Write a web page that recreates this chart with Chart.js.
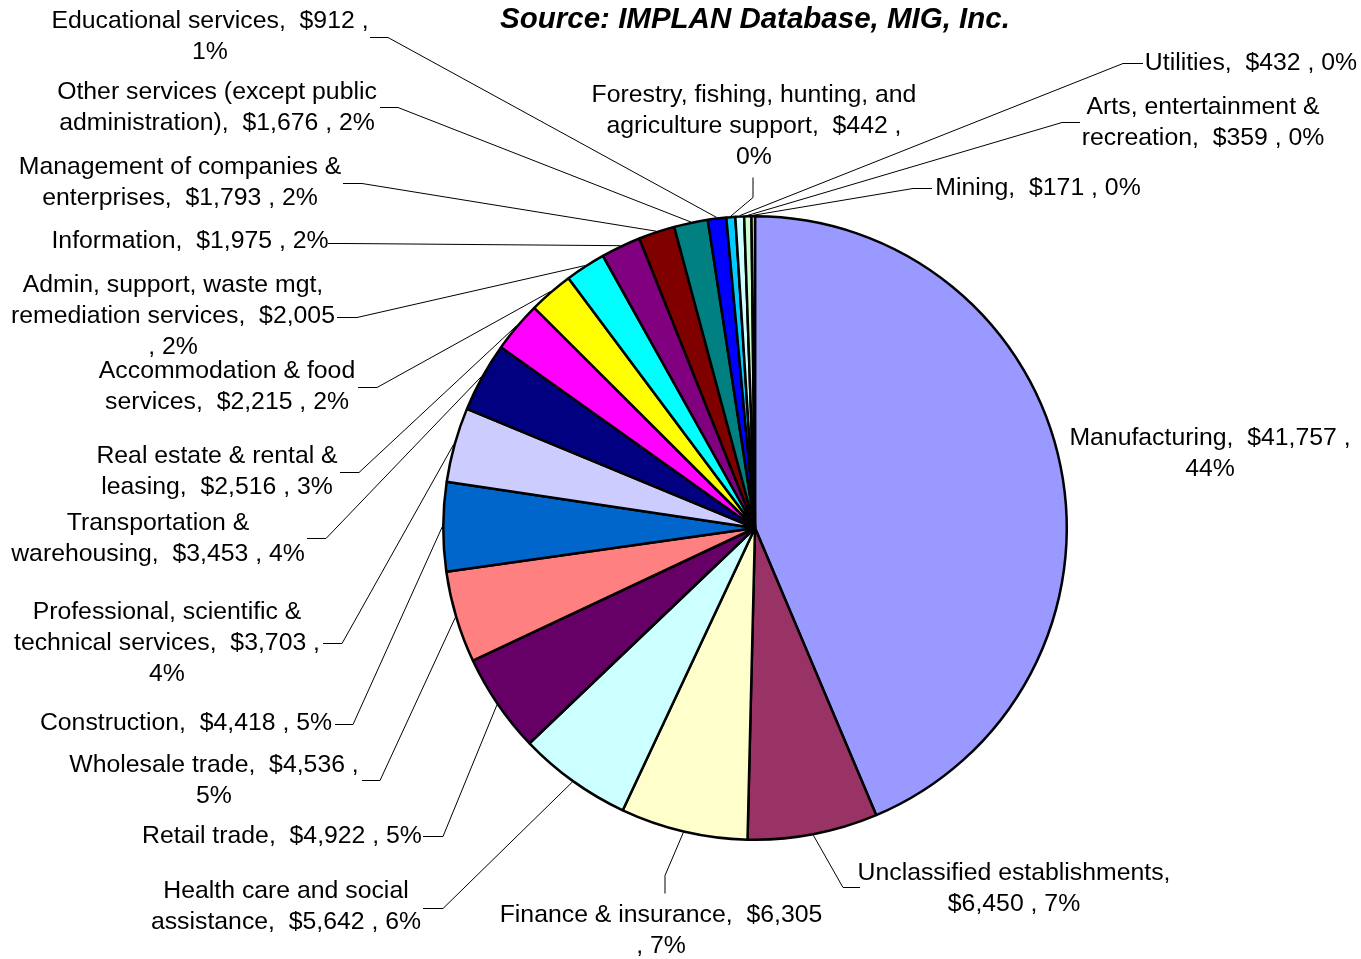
<!DOCTYPE html>
<html>
<head>
<meta charset="utf-8">
<script src="https://cdn.jsdelivr.net/npm/chart.js@4/dist/chart.umd.min.js"></script>
<style>
html,body{margin:0;padding:0;background:#fff;}
canvas{display:block;}
</style>
</head>
<body>
<canvas id="c" width="1361" height="959"></canvas>
<script>
// ---- DATA ----
const titleText = "Source: IMPLAN Database, MIG, Inc.";
const categories = [
  "Manufacturing", "Unclassified establishments", "Finance & insurance",
  "Health care and social assistance", "Retail trade", "Wholesale trade",
  "Construction", "Professional, scientific & technical services",
  "Transportation & warehousing", "Real estate & rental & leasing",
  "Accommodation & food services", "Admin, support, waste mgt, remediation services",
  "Information", "Management of companies & enterprises",
  "Other services (except public administration)", "Educational services",
  "Forestry, fishing, hunting, and agriculture support", "Utilities",
  "Arts, entertainment & recreation", "Mining"
];
const values = [41757, 6450, 6305, 5642, 4922, 4536, 4418, 3703, 3453, 2516,
                2215, 2005, 1975, 1793, 1676, 912, 442, 432, 359, 171];

// ---- STYLE ----
const sliceColors = ["#9999FF","#993366","#FFFFCC","#CCFFFF","#660066","#FF8080",
  "#0066CC","#CCCCFF","#000080","#FF00FF","#FFFF00","#00FFFF","#800080","#800000",
  "#008080","#0000FF","#00CCFF","#CCFFFF","#CCFFCC","#FFFF99"];

// ---- LABEL LAYOUT (positions only) ----
// cx, y0: centre x and first line centre y; breaks: tokens to break before;
// lead: [start point, elbow point] of leader line (end computed from the arc)
const labelLayout = [
  {cx:1210, y0:438, breaks:["44%"], lead:null},
  {cx:1014, y0:873, breaks:["$6,450"], lead:[[860,887],[843,887]]},
  {cx:661, y0:915, breaks:[", 7%"], lead:[[665,893],[665,875]]},
  {cx:286, y0:891, breaks:["assistance"], lead:[[423,908],[443,908]]},
  {cx:282, y0:836, breaks:[], lead:[[423,836],[443,836]]},
  {cx:214, y0:765, breaks:["5%"], lead:[[362,780],[380,780]]},
  {cx:186, y0:723, breaks:[], lead:[[335,724],[353,724]]},
  {cx:167, y0:612, breaks:["technical","4%"], lead:[[323,643],[342,643]]},
  {cx:158, y0:523, breaks:["warehousing"], lead:[[307,538],[326,538]]},
  {cx:217, y0:456, breaks:["leasing"], lead:[[340,472],[359,472]]},
  {cx:227, y0:371, breaks:["services"], lead:[[358,387],[377,387]]},
  {cx:173, y0:285, breaks:["remediation",", 2%"], lead:[[337,317],[357,317]]},
  {cx:190, y0:241, breaks:[], lead:[[328,243],[346,243]]},
  {cx:180, y0:167, breaks:["enterprises"], lead:[[343,183],[362,183]]},
  {cx:217, y0:92, breaks:["administration"], lead:[[380,107],[398,107]]},
  {cx:210, y0:21, breaks:["1%"], lead:[[370,37],[388,37]]},
  {cx:754, y0:95, breaks:["agriculture","0%"], lead:[[753,177],[753,197]]},
  {cx:1251, y0:63, breaks:[], lead:[[1143,63],[1123,63]]},
  {cx:1203, y0:107, breaks:["recreation"], lead:[[1080,122],[1062,122]]},
  {cx:1038, y0:188, breaks:[], lead:[[932,188],[913,188]]}
];

const FONT = '"Liberation Sans", Arial, sans-serif';
const total = values.reduce((a,b)=>a+b,0);
function fmt(v){ return v.toLocaleString('en-US'); }
function labelText(i){
  return categories[i] + ",  $" + fmt(values[i]) + " , " + Math.round(values[i]/total*100) + "%";
}
function splitLines(str, breaks){
  const lines = []; let rest = str;
  for (const tok of breaks){
    const k = rest.indexOf(tok);
    if (k > 0){ lines.push(rest.slice(0,k).trim()); rest = rest.slice(k); }
  }
  lines.push(rest.trim());
  return lines;
}

const labelPlugin = {
  id: 'pieLabels',
  afterDraw(chart){
    const ctx = chart.ctx;
    const meta = chart.getDatasetMeta(0);
    ctx.save();
    // title
    ctx.fillStyle = '#000';
    ctx.font = 'italic bold 29.5px ' + FONT;
    ctx.textAlign = 'center';
    ctx.textBaseline = 'middle';
    ctx.fillText(titleText, 755, 20);
    // labels
    ctx.font = '24.8px ' + FONT;
    ctx.lineWidth = 1;
    ctx.strokeStyle = '#000';
    labelLayout.forEach((L, i) => {
      const lines = splitLines(labelText(i), L.breaks);
      lines.forEach((ln, j) => ctx.fillText(ln, L.cx, L.y0 + j*31));
      if (L.lead){
        const arc = meta.data[i];
        const mid = (arc.startAngle + arc.endAngle)/2;
        const R = arc.outerRadius + 1;
        const ex = arc.x + Math.cos(mid)*R, ey = arc.y + Math.sin(mid)*R;
        ctx.beginPath();
        ctx.moveTo(L.lead[0][0], L.lead[0][1] + 0.5);
        ctx.lineTo(L.lead[1][0], L.lead[1][1] + 0.5);
        ctx.lineTo(ex, ey);
        ctx.stroke();
      }
    });
    ctx.restore();
  }
};

new Chart(document.getElementById('c'), {
  type: 'pie',
  data: {
    labels: categories,
    datasets: [{
      data: values,
      backgroundColor: sliceColors,
      borderColor: '#000',
      borderWidth: 2.5,
      borderAlign: 'center'
    }]
  },
  options: {
    responsive: false,
    animation: false,
    layout: { padding: { left: 442, top: 215, right: 293, bottom: 118 } },
    plugins: { legend: { display: false }, tooltip: { enabled: false }, title: { display: false } }
  },
  plugins: [labelPlugin]
});
</script>
</body>
</html>
